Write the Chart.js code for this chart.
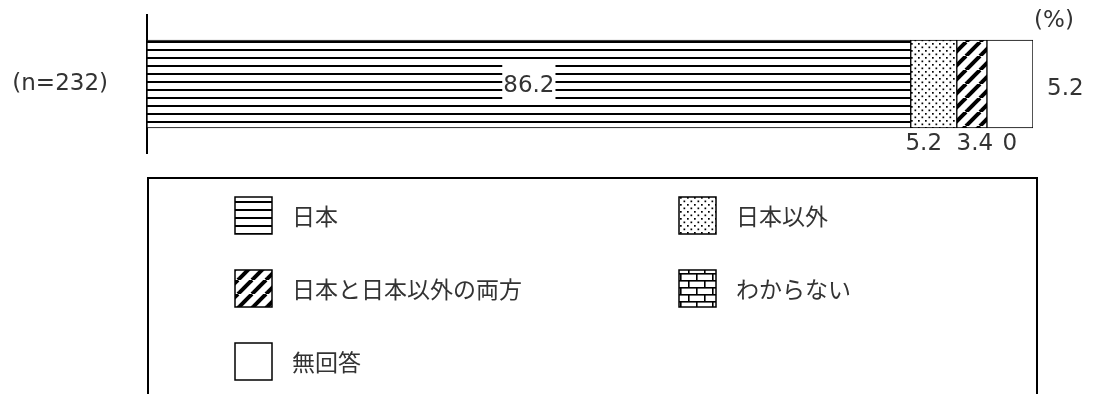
<!DOCTYPE html>
<html lang="ja">
<head>
<meta charset="utf-8">
<script src="https://cdn.jsdelivr.net/npm/chart.js"></script>
<style>
  html, body { margin: 0; padding: 0; background: #fff; }
  canvas { display: block; }
</style>
</head>
<body>
<canvas id="originChart" width="1093" height="394"></canvas>
<script>
// DATA
const categories = ['(n=232)'];
const seriesLabels = ['日本', '日本以外', '日本と日本以外の両方', 'わからない', '無回答'];
const japan = [86.2];
const otherThanJapan = [5.2];
const both = [3.4];
const unknown = [0];
const noAnswer = [5.2];
const unitLabel = '(%)';

const latinFont = '"DejaVu Sans", "Noto Sans CJK JP", sans-serif';
const cjkFont = '"Noto Sans CJK JP", "Noto Sans", sans-serif';
const textColor = '#333';

let canvas = document.getElementById('originChart');
let ctx0 = canvas.getContext('2d');

// fill patterns
function makePattern(w, h, draw) {
  const c = document.createElement('canvas');
  c.width = w; c.height = h;
  const g = c.getContext('2d');
  g.fillStyle = '#fff';
  g.fillRect(0, 0, w, h);
  g.fillStyle = '#000';
  g.strokeStyle = '#000';
  draw(g);
  return ctx0.createPattern(c, 'repeat');
}

let linesPattern = makePattern(8, 8, g => {
  g.fillRect(0, 1, 8, 2);
});
let dotsPattern = makePattern(7, 7, g => {
  g.fillRect(1, 1, 1.7, 1.7);
  g.fillRect(4.5, 4.5, 1.7, 1.7);
});
let hatchPattern = makePattern(14, 14, g => {
  g.lineWidth = 4;
  [-14, 0, 14].forEach(k => {
    g.beginPath();
    g.moveTo(k, 14);
    g.lineTo(k + 14, 0);
    g.stroke();
  });
});
let brickPattern = makePattern(16, 14, g => {
  g.fillRect(0, 0, 16, 1.6);
  g.fillRect(0, 7, 16, 1.6);
  g.fillRect(0, 0, 1.6, 7);
  g.fillRect(8, 7, 1.6, 7);
});

const fills = [linesPattern, dotsPattern, hatchPattern, brickPattern, '#fff'];
const seriesData = [japan, otherThanJapan, both, unknown, noAnswer];
// where each value label goes, plus a small sideways nudge for the ones under the bar
const labelPlace = ['inside', 'below', 'below', 'below', 'right'];
const belowNudge = [0, -10, 3, 23, 0];

// value labels
const valueLabels = {
  id: 'valueLabels',
  afterDatasetsDraw(chart) {
    const ctx = chart.ctx;
    ctx.save();
    ctx.font = '23px ' + latinFont;
    ctx.textBaseline = 'middle';
    chart.data.datasets.forEach((ds, i) => {
      chart.getDatasetMeta(i).data.forEach((bar, j) => {
        const txt = String(ds.data[j]);
        const cx = (bar.x + bar.base) / 2;
        const half = bar.height / 2;
        if (labelPlace[i] === 'inside') {
          const w = ctx.measureText(txt).width;
          ctx.fillStyle = '#fff';
          ctx.fillRect(cx - w / 2 - 1, bar.y - 21, w + 2, 38);
          ctx.fillStyle = textColor;
          ctx.textAlign = 'center';
          ctx.fillText(txt, cx, bar.y + 2);
        } else if (labelPlace[i] === 'below') {
          ctx.fillStyle = textColor;
          ctx.textAlign = 'center';
          ctx.fillText(txt, cx + belowNudge[i], bar.y + half + 16);
        } else {
          ctx.fillStyle = textColor;
          ctx.textAlign = 'left';
          ctx.fillText(txt, Math.max(bar.x, bar.base) + 14, bar.y + 5);
        }
      });
    });
    // unit
    const area = chart.chartArea;
    ctx.fillStyle = textColor;
    ctx.textAlign = 'center';
    ctx.font = '23px ' + latinFont;
    ctx.fillText(unitLabel, area.right + 21, 21);
    ctx.restore();
  }
};

// boxed legend underneath
const boxLegend = {
  id: 'boxLegend',
  afterDraw(chart) {
    const ctx = chart.ctx;
    const area = chart.chartArea;
    const top = area.bottom + 25;
    ctx.save();
    ctx.lineWidth = 2;
    ctx.strokeStyle = '#000';
    ctx.strokeRect(area.left + 1, top, area.right - area.left + 3, 300);
    const colX = [area.left + 88, area.left + 532];
    ctx.font = '23px ' + cjkFont;
    ctx.textBaseline = 'middle';
    ctx.textAlign = 'left';
    chart.data.datasets.forEach((ds, i) => {
      const x = colX[i % 2];
      const y = top + 19 + Math.floor(i / 2) * 73;
      ctx.fillStyle = ds.backgroundColor;
      ctx.fillRect(x, y, 37, 37);
      ctx.lineWidth = 1.5;
      ctx.strokeRect(x, y, 37, 37);
      ctx.fillStyle = textColor;
      ctx.fillText(ds.label, x + 57, y + 19);
    });
    ctx.restore();
  }
};

let originChart = new Chart(ctx0, {
  type: 'bar',
  data: {
    labels: categories,
    datasets: seriesData.map((d, i) => ({
      label: seriesLabels[i],
      data: d,
      backgroundColor: fills[i],
      borderColor: '#000',
      borderWidth: 1,
      borderSkipped: false,
      barThickness: 88
    }))
  },
  options: {
    indexAxis: 'y',
    responsive: false,
    animation: false,
    devicePixelRatio: 1,
    layout: {
      padding: { left: 0, right: 60, top: 15, bottom: 241 }
    },
    plugins: {
      legend: { display: false },
      tooltip: { enabled: false }
    },
    scales: {
      x: {
        stacked: true,
        min: 0,
        max: 100,
        display: false
      },
      y: {
        stacked: true,
        grid: { display: false, drawTicks: false },
        border: { display: true, color: '#000', width: 2 },
        ticks: {
          padding: 39,
          color: textColor,
          font: { family: latinFont, size: 23 }
        },
        afterFit(scale) {
          scale.width = 147;
          // the tick padding would otherwise push the plot area down
          scale.paddingTop = 0;
          scale.paddingBottom = 0;
        }
      }
    }
  },
  plugins: [valueLabels, boxLegend]
});
</script>
</body>
</html>
